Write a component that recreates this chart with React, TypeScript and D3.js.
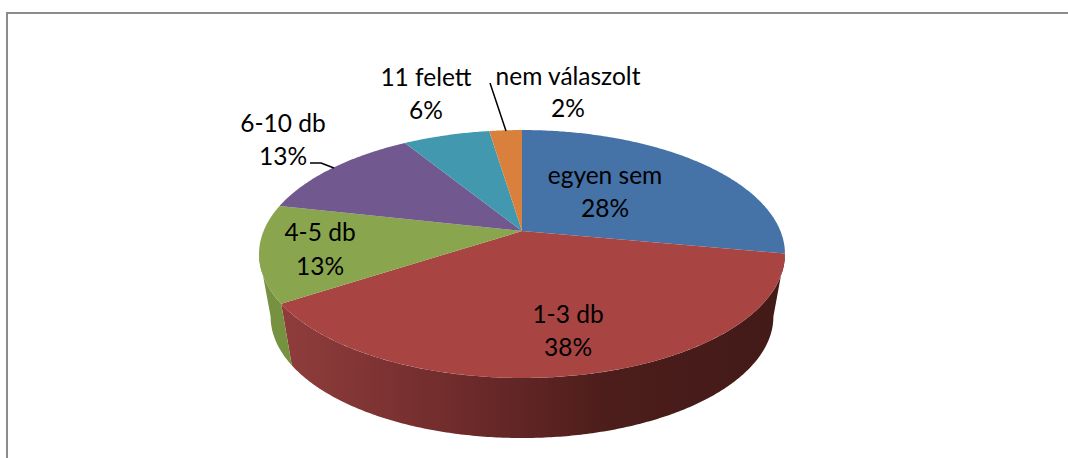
import React from "react";
import * as d3 from "d3";

const categories = ["egyen sem", "1-3 db", "4-5 db", "6-10 db", "11 felett", "nem válaszolt"];
const shares = [27.9, 37.9, 12.7, 12.7, 6.4, 2.4];
const colors = ["#4572a7", "#a84543", "#89a54e", "#71588f", "#4198af", "#d9813c"];
const labelCenters: [number, number, number][] = [
  [605, 184, 217],
  [568, 323, 356],
  [320, 241, 275],
  [283, 132, 165],
  [426, 86, 119],
  [568, 85, 117],
];

const W = 1068;
const H = 458;
const CX = 522;
const CY = 231;
const BOTTOM_CY = 294;
const SX = 258.4;
const SY = 119.7;
const PERSP = -0.1855;
const BOTTOM_SCALE_X = 0.956;
const BOTTOM_SCALE_Y = 0.98;

function project(theta: number, sx: number, sy: number, cy: number): [number, number] {
  const x = Math.sin(theta);
  const y = -Math.cos(theta);
  const den = 1 + PERSP * y;
  return [CX + (sx * SX * x) / den, cy + (sy * SY * y) / den];
}

function rim(a0: number, a1: number, sx: number, sy: number, cy: number): [number, number][] {
  const n = Math.max(2, Math.ceil(Math.abs(a1 - a0) / 0.01));
  return d3.range(n + 1).map((i) => project(a0 + ((a1 - a0) * i) / n, sx, sy, cy));
}

const lineGen = d3.line<[number, number]>();

export default function App() {
  const arcs = d3.pie<number>().sort(null)(shares);
  const silhouetteStart = Math.acos(PERSP);
  const silhouetteEnd = 2 * Math.PI - silhouetteStart;
  const fmt = (v: number) => `${Math.round(v)}%`;

  const sides = arcs
    .map((a, i) => {
      const s = Math.max(a.startAngle, silhouetteStart);
      const e = Math.min(a.endAngle, silhouetteEnd);
      if (e <= s) return null;
      const pts = [...rim(s, e, 1, 1, CY), ...rim(e, s, BOTTOM_SCALE_X, BOTTOM_SCALE_Y, BOTTOM_CY)];
      return { i, d: lineGen(pts) + "Z" };
    })
    .filter(Boolean) as { i: number; d: string }[];

  return (
    <svg
      width={W}
      height={H}
      viewBox={`0 0 ${W} ${H}`}
      style={{ position: "absolute", left: 0, top: 0, display: "block", background: "#fff" }}
      fontFamily="Lato, 'Open Sans', sans-serif"
      fontSize={24.5}
      fill="#000"
    >
      <defs>
        <linearGradient id="redSide" gradientUnits="userSpaceOnUse" x1={283} x2={785} y1={0} y2={0}>
          <stop offset="0" stopColor="#8f3d3c" />
          <stop offset="0.35" stopColor="#6f2b2b" />
          <stop offset="0.65" stopColor="#4c1d1b" />
          <stop offset="1" stopColor="#421a18" />
        </linearGradient>
      </defs>
      <path d="M7 458V13H1068" fill="none" stroke="#8c8c8c" strokeWidth={2} />
      {sides.map(({ i, d }) => (
        <path key={i} d={d} fill={i === 1 ? "url(#redSide)" : "#76913f"} />
      ))}
      {arcs.map((a, i) => (
        <path
          key={i}
          d={lineGen([[CX, CY], ...rim(a.startAngle, a.endAngle, 1, 1, CY)]) + "Z"}
          fill={colors[i]}
        />
      ))}
      <path d="M490 83L506 131" fill="none" stroke="#000" strokeWidth={1.5} />
      <path d="M310 163H321L334 168" fill="none" stroke="#000" strokeWidth={1.5} />
      {categories.map((c, i) => (
        <g key={c} textAnchor="middle">
          <text x={labelCenters[i][0]} y={labelCenters[i][1]}>{c}</text>
          <text x={labelCenters[i][0]} y={labelCenters[i][2]}>{fmt(shares[i])}</text>
        </g>
      ))}
    </svg>
  );
}
